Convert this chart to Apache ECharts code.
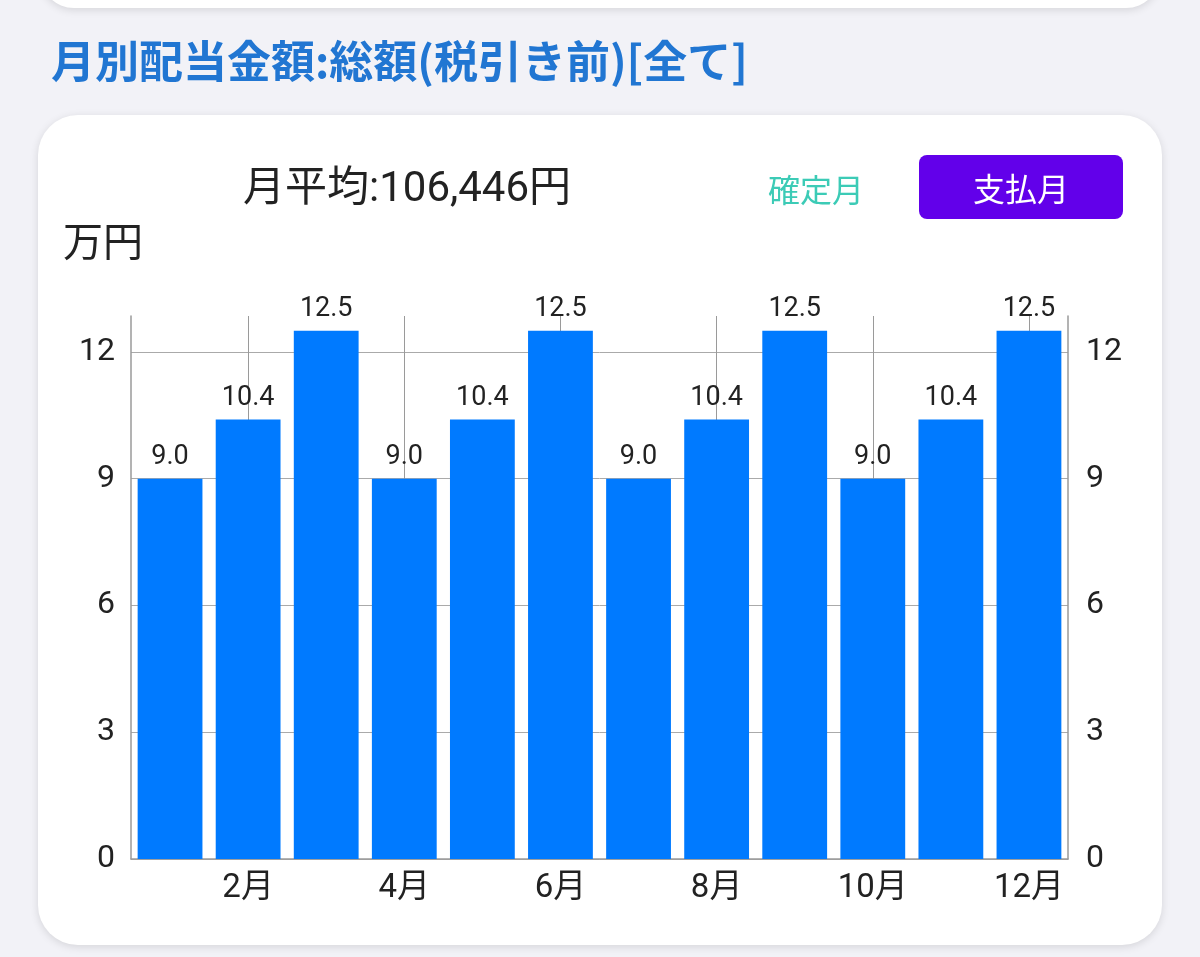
<!DOCTYPE html>
<html>
<head>
<meta charset="utf-8">
<script src="https://cdn.jsdelivr.net/npm/echarts@6/dist/echarts.min.js"></script>
<style>
  html, body { margin: 0; padding: 0; background: #f2f2f7; }
  #chart { width: 1200px; height: 957px; }
</style>
</head>
<body>
<div id="chart"></div>
<script>
// data (万円)
const months = ["1月", "2月", "3月", "4月", "5月", "6月", "7月", "8月", "9月", "10月", "11月", "12月"];
const amounts = [9.0, 10.4, 12.5, 9.0, 10.4, 12.5, 9.0, 10.4, 12.5, 9.0, 10.4, 12.5];
const yTicks = { min: 0, max: 12.85, interval: 3 };

const titleText = "月別配当金額:総額(税引き前)[全て]";
const averageText = "月平均:106,446円";
const unitText = "万円";

const FONT = "Roboto, 'Noto Sans CJK JP', sans-serif";
const CJK = "'Noto Sans CJK JP', Roboto, sans-serif";

const chart = echarts.init(document.getElementById("chart"));

// show only even months (index 1, 3, 5...)
const evenMonth = (index) => index % 2 === 1;

const options = {
  backgroundColor: "#f2f2f7",
  animation: false,
  grid: { left: 131, right: 132, top: 316, bottom: 98, containLabel: false },
  xAxis: {
    type: "category",
    data: months,
    axisLine: { show: true, lineStyle: { color: "#9a9a9a", width: 1.5 } },
    axisTick: { show: false },
    axisLabel: {
      interval: evenMonth,
      margin: 13,
      fontSize: 33,
      color: "#222",
      fontFamily: FONT,
    },
    splitLine: {
      show: true,
      interval: evenMonth,
      alignWithLabel: true,
      lineStyle: { color: "#9a9a9a", width: 1 },
    },
  },
  yAxis: [
    {
      type: "value",
      position: "left",
      min: yTicks.min,
      max: yTicks.max,
      interval: yTicks.interval,
      axisLine: { show: true, lineStyle: { color: "#9a9a9a", width: 1.5 } },
      axisTick: { show: false },
      axisLabel: { margin: 16, fontSize: 32, color: "#222", fontFamily: FONT, showMaxLabel: false },
      splitLine: { show: true, showMaxLine: false, lineStyle: { color: "#aaaaaa", width: 1 } },
    },
    {
      type: "value",
      position: "right",
      min: yTicks.min,
      max: yTicks.max,
      interval: yTicks.interval,
      axisLine: { show: true, lineStyle: { color: "#9a9a9a", width: 1.5 } },
      axisTick: { show: false },
      axisLabel: { margin: 18, fontSize: 32, color: "#222", fontFamily: FONT, showMaxLabel: false },
      splitLine: { show: false },
    },
  ],
  series: [
    {
      type: "bar",
      data: amounts,
      barCategoryGap: "17%",
      itemStyle: { color: "#007aff" },
      label: {
        show: true,
        position: "top",
        distance: 8,
        fontSize: 27,
        color: "#222",
        fontFamily: FONT,
        formatter: (p) => p.value.toFixed(1),
      },
      z: 3,
    },
  ],
  graphic: [
    // bottom edge of the card above
    {
      type: "rect",
      z: -10,
      shape: { x: 40, y: -60, width: 1120, height: 68, r: 36 },
      style: { fill: "#fff", shadowBlur: 8, shadowColor: "rgba(0,0,0,0.12)", shadowOffsetY: 2 },
    },
    // main card
    {
      type: "rect",
      z: -10,
      shape: { x: 38, y: 115, width: 1124, height: 830, r: 40 },
      style: { fill: "#fff", shadowBlur: 8, shadowColor: "rgba(0,0,0,0.12)", shadowOffsetY: 2 },
    },
    {
      type: "text",
      x: 51,
      y: 61,
      style: {
        text: titleText,
        fill: "#2176d2",
        font: "bold 44px " + CJK,
        textVerticalAlign: "middle",
      },
    },
    {
      type: "text",
      x: 243,
      y: 190,
      style: { text: averageText, fill: "#222", font: "42px " + FONT, textVerticalAlign: "middle" },
    },
    {
      type: "text",
      x: 63,
      y: 241,
      style: { text: unitText, fill: "#222", font: "40px " + CJK, textVerticalAlign: "middle" },
    },
    {
      type: "text",
      x: 816,
      y: 190,
      style: { text: "確定月", fill: "#3ccbb6", font: "32px " + CJK, textAlign: "center", textVerticalAlign: "middle" },
    },
    {
      type: "rect",
      shape: { x: 919, y: 155, width: 204, height: 64, r: 8 },
      style: { fill: "#6200ea" },
    },
    {
      type: "text",
      x: 1021,
      y: 189,
      style: { text: "支払月", fill: "#fff", font: "32px " + CJK, textAlign: "center", textVerticalAlign: "middle" },
    },
  ],
};

chart.setOption(options);
</script>
</body>
</html>
